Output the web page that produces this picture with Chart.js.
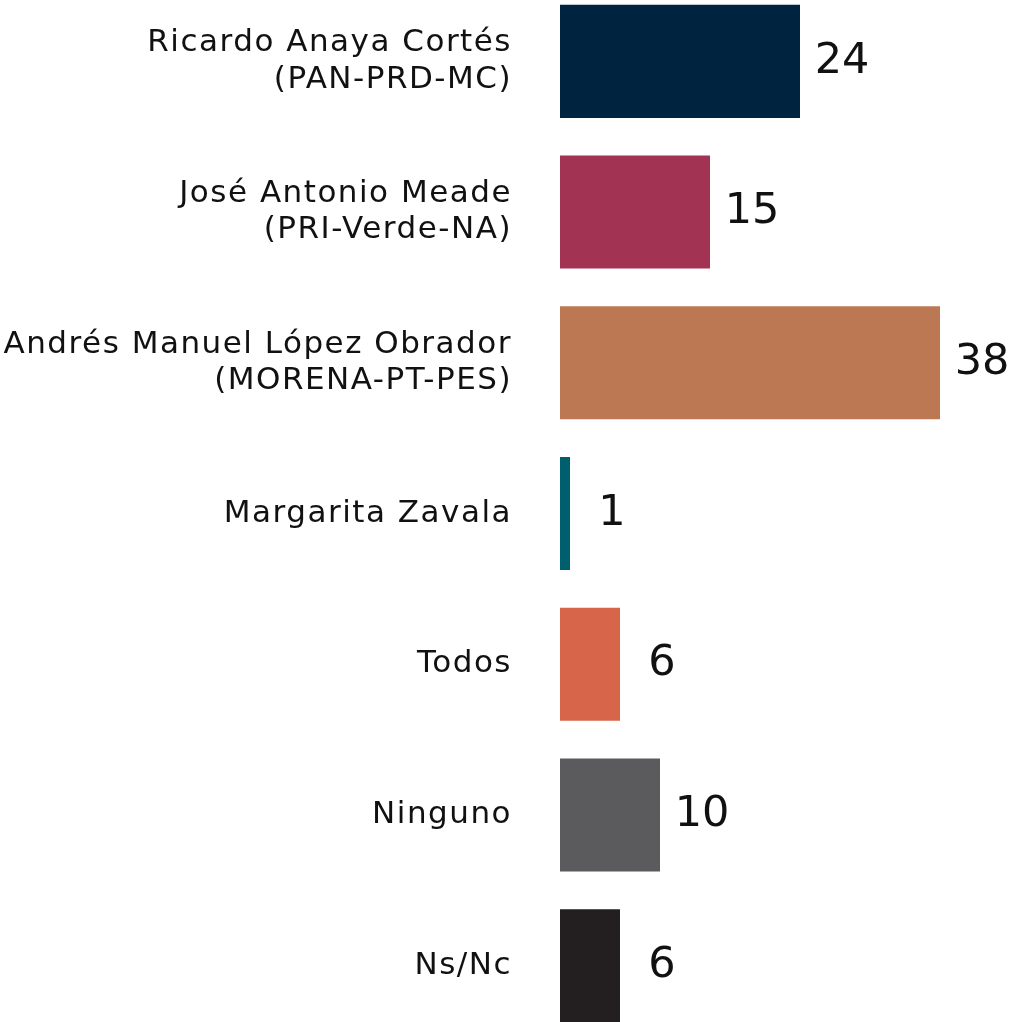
<!DOCTYPE html>
<html>
<head>
<meta charset="utf-8">
<script src="https://cdn.jsdelivr.net/npm/chart.js@4"></script>
<style>
  html, body { margin: 0; padding: 0; background: #fff; overflow: hidden; }
  #wrap { position: absolute; left: 0; top: -14px; width: 1014px; height: 1055px; }
</style>
</head>
<body>
<div id="wrap"><canvas id="chart"></canvas></div>
<script>
const categories = [
  ['Ricardo Anaya Cortés', '(PAN-PRD-MC)'],
  ['José Antonio Meade', '(PRI-Verde-NA)'],
  ['Andrés Manuel López Obrador', '(MORENA-PT-PES)'],
  'Margarita Zavala',
  'Todos',
  'Ninguno',
  'Ns/Nc',
];
const values = [24, 15, 38, 1, 6, 10, 6];
const barColors = ['#00233f', '#a23352', '#bc7852', '#005f6e', '#d6654a', '#5b5b5d', '#231f20'];

const FONT = '"DejaVu Sans", sans-serif';

// wider tracking, closer to the original typeface
const tracking = {
  id: 'tracking',
  beforeDraw(chart) {
    chart.ctx.letterSpacing = '1.5px';
  },
};

const valueLabels = {
  id: 'valueLabels',
  afterDatasetsDraw(chart) {
    const { ctx } = chart;
    const meta = chart.getDatasetMeta(0);
    ctx.save();
    ctx.letterSpacing = '0px';
    ctx.fillStyle = '#111';
    ctx.font = `43px ${FONT}`;
    ctx.textAlign = 'center';
    ctx.textBaseline = 'middle';
    meta.data.forEach((bar, i) => {
      ctx.fillText(String(values[i]), bar.x + 42, bar.y);
    });
    ctx.restore();
  },
};

new Chart(document.getElementById('chart'), {
  type: 'bar',
  data: {
    labels: categories,
    datasets: [{
      data: values,
      backgroundColor: barColors,
      borderWidth: 0,
      barPercentage: 0.75,
      categoryPercentage: 1,
    }],
  },
  options: {
    indexAxis: 'y',
    responsive: true,
    maintainAspectRatio: false,
    animation: false,
    layout: {
      padding: 0,
    },
    plugins: {
      legend: { display: false },
      tooltip: { enabled: false },
    },
    scales: {
      x: {
        display: false,
        min: 0,
        max: 45.4,
      },
      y: {
        afterFit(scale) {
          scale.width = 560;
          scale.paddingTop = 0;
          scale.paddingBottom = 0;
        },
        grid: { display: false },
        border: { display: false },
        ticks: {
          color: '#111',
          padding: 40,
          font: { family: FONT, size: 31, lineHeight: 1.18 },
        },
      },
    },
  },
  plugins: [tracking, valueLabels],
});
</script>
</body>
</html>
